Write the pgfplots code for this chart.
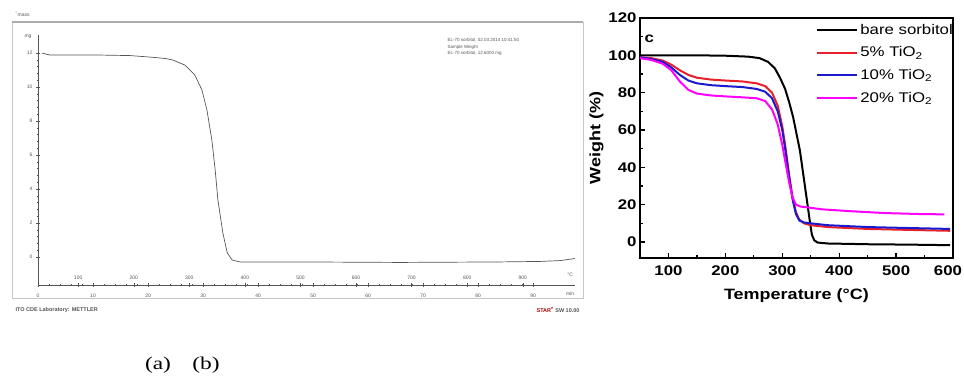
\documentclass[border=0pt]{standalone}
\usepackage{fontspec}
\setmainfont{Liberation Sans}
\newfontfamily\wide[FakeStretch=1.2]{Liberation Sans}
\newfontfamily\serifwide[FakeStretch=1.3]{Liberation Serif}
\usepackage{pgfplots}
\pgfplotsset{compat=1.18}
\definecolor{scr}{HTML}{555555}
\definecolor{myred}{HTML}{E8202A}
\definecolor{myblue}{HTML}{1A1ACC}
\definecolor{mymag}{HTML}{FF00FF}
\begin{document}
\begin{tikzpicture}
\useasboundingbox (0,0) rectangle (964bp,378bp);
% ---------- panel (a): screenshot frame ----------
\draw[gray!45, line width=0.6bp] (12bp,80bp) rectangle (583bp,356bp);
\draw[gray!65, line width=1.3bp] (12bp,356bp) -- (583bp,356bp);
\node[anchor=west, font=\fontsize{5bp}{6bp}\selectfont, text=scr] at (12bp,364bp) {\textsuperscript{\textasciicircum}mass};
\node[anchor=north west, align=left, font=\fontsize{4.5bp}{6.5bp}\selectfont, text=scr] at (444bp,343bp)
  {EL-70 sorbitol, 02.03.2014 10:41:50\\Sample Weight\\EL-70 sorbitol, 12.6000 mg};
\node[anchor=west, font=\bfseries\fontsize{5.5bp}{6bp}\selectfont, text=scr] at (12bp,68bp) {ITO CDE Laboratory: METTLER};
\node[anchor=east, font=\bfseries\fontsize{5.5bp}{6bp}\selectfont, text=scr] at (583bp,68bp) {\textcolor{red!70!black}{STAR\textsuperscript{e}} SW 10.00};
\begin{axis}[at={(38bp,93bp)}, anchor=south west, scale only axis,
  width=537bp, height=250bp,
  xmin=0, xmax=97.6, ymin=-1.647, ymax=13.06,
  axis x line=bottom, axis y line=left,
  axis line style={-, scr, line width=0.6bp},
  tick align=center, major tick length=4bp, minor tick length=2.5bp,
  tick style={scr, line width=0.4bp},
  xtick={0,10,...,90}, xticklabels={0,10,20,30,40,50,60,70,80,90},
  minor x tick num=4,
  ytick={0,2,...,12}, yticklabels={0,2,4,6,8,10,12},
  minor y tick num=4,
  ticklabel style={font=\fontsize{5bp}{6bp}\selectfont, text=scr},
  xticklabel style={yshift=-3bp},
  extra x ticks={7.3,17.4,27.5,37.6,47.7,57.8,67.9,78.0,88.1},
  extra x tick labels={100,200,300,400,500,600,700,800,900},
  extra x tick style={xticklabel style={anchor=south, yshift=7bp}},
  clip=false]
\addplot[scr, line width=0.7bp] coordinates {
 (0.7,12.0)(2.2,11.88)(11.3,11.88)(16.7,11.85)(20.4,11.76)(23.1,11.68)(24.5,11.59)
 (26.7,11.29)(28.5,10.71)(29.8,9.82)(30.7,8.65)(31.6,6.88)(32.2,5.12)(32.7,3.35)
 (33.6,1.41)(34.4,0.24)(35.3,-0.18)(36.7,-0.29)(47.6,-0.29)(65.8,-0.32)(84,-0.29)
 (91.3,-0.26)(94.9,-0.21)(97.6,-0.09)};
\node[font=\fontsize{5bp}{6bp}\selectfont, text=scr] at (axis cs:96.7,-1.647) [yshift=-9bp] {min};
\node[font=\fontsize{5bp}{6bp}\selectfont, text=scr] at (axis cs:96.7,-1.647) [yshift=10bp] {°C};
\node[font=\fontsize{5bp}{6bp}\selectfont, text=scr, anchor=east] at (axis cs:0,12.94) [xshift=-3bp] {mg};
\end{axis}
% ---------- panel (b) ----------
\begin{axis}[at={(640bp,120bp)}, anchor=south west, scale only axis,
  width=313bp, height=240bp,
  xmin=50, xmax=600, ymin=-8.57, ymax=120,
  xtick={100,200,...,500}, minor xtick={150,250,...,550},
  extra x ticks={600},
  extra x tick style={xticklabel style={xshift=-5bp}},
  ytick={0,20,...,120}, minor y tick num=1,
  tick pos=left, tick align=inside,
  major tick length=5bp, minor tick length=3bp,
  axis line style={line width=1.6bp},
  tick style={black, line width=1.2bp},
  /pgf/number format/assume math mode=true,
  ticklabel style={font=\wide\bfseries\fontsize{14bp}{16bp}\selectfont},
  xticklabel style={yshift=-4bp},
  xlabel={Temperature (°C)}, ylabel={Weight (\%)},
  label style={font=\wide\bfseries\fontsize{15bp}{17bp}\selectfont},
  xlabel style={yshift=-6bp}, ylabel style={yshift=-2bp},
  legend style={at={(1,1)}, anchor=north east, xshift=3bp, yshift=-3bp,
    draw=none, fill=none, font=\wide\fontsize{14bp}{16bp}\selectfont,
    row sep=7bp, inner sep=1bp},
  legend cell align=left,
  legend image code/.code={\draw[#1, line width=2bp] (0bp,0bp) -- (40bp,0bp);},
  clip=false]
\addplot[black, line width=2bp] coordinates {
 (50,100)(100,100)(150,100)(200,99.8)(240,99.3)(260,98.5)(275,96.5)(287,93)(296,88)
 (305,82)(312,75)(319,67)(325,58)(331,49)(337,36)(343,23)(348,12)(352,4)(356,1)
 (362,-0.3)(380,-0.8)(450,-1.2)(520,-1.4)(595,-1.7)};
\addlegendentry{bare sorbitol}
\addplot[myred, line width=2bp] coordinates {
 (50,99)(70,98.5)(90,97.2)(105,95)(120,92)(135,89.5)(150,88)(175,87)(200,86.5)
 (230,86)(255,85)(270,83.5)(282,80)(292,73)(300,62)(306,50)(312,36)(318,24)(324,16)
 (330,12)(338,10)(350,9)(380,8)(450,7)(520,6.5)(595,6)};
\addlegendentry{5\% TiO\textsubscript{2}}
\addplot[myblue, line width=2bp] coordinates {
 (50,99)(70,98)(90,96.5)(105,93.5)(120,89.5)(135,86.5)(150,85)(175,84)(200,83.5)
 (230,83)(255,82)(270,80.5)(282,77)(292,70)(300,60)(306,48)(312,35)(318,23)(324,15)
 (330,11.5)(338,10.5)(350,10)(380,9)(450,8)(520,7.5)(595,7)};
\addlegendentry{10\% TiO\textsubscript{2}}
\addplot[mymag, line width=2bp] coordinates {
 (50,98.5)(70,97.5)(90,95.5)(105,92)(120,86)(135,81.5)(150,79.5)(175,78.5)(200,78)
 (230,77.5)(255,77)(270,75.5)(282,71)(292,63)(300,52)(306,42)(312,32)(318,24)(324,20)
 (332,19)(345,18.5)(370,17.5)(420,16.5)(480,15.5)(540,15)(585,14.8)};
\addlegendentry{20\% TiO\textsubscript{2}}
\node[anchor=west, font=\wide\bfseries\fontsize{14bp}{16bp}\selectfont] at (axis cs:52,109) {c};
\end{axis}
% ---------- captions ----------
\node[font=\serifwide\fontsize{18bp}{20bp}\selectfont] at (158bp,13bp) {(a)};
\node[font=\serifwide\fontsize{18bp}{20bp}\selectfont] at (206bp,13bp) {(b)};
\end{tikzpicture}
\end{document}
